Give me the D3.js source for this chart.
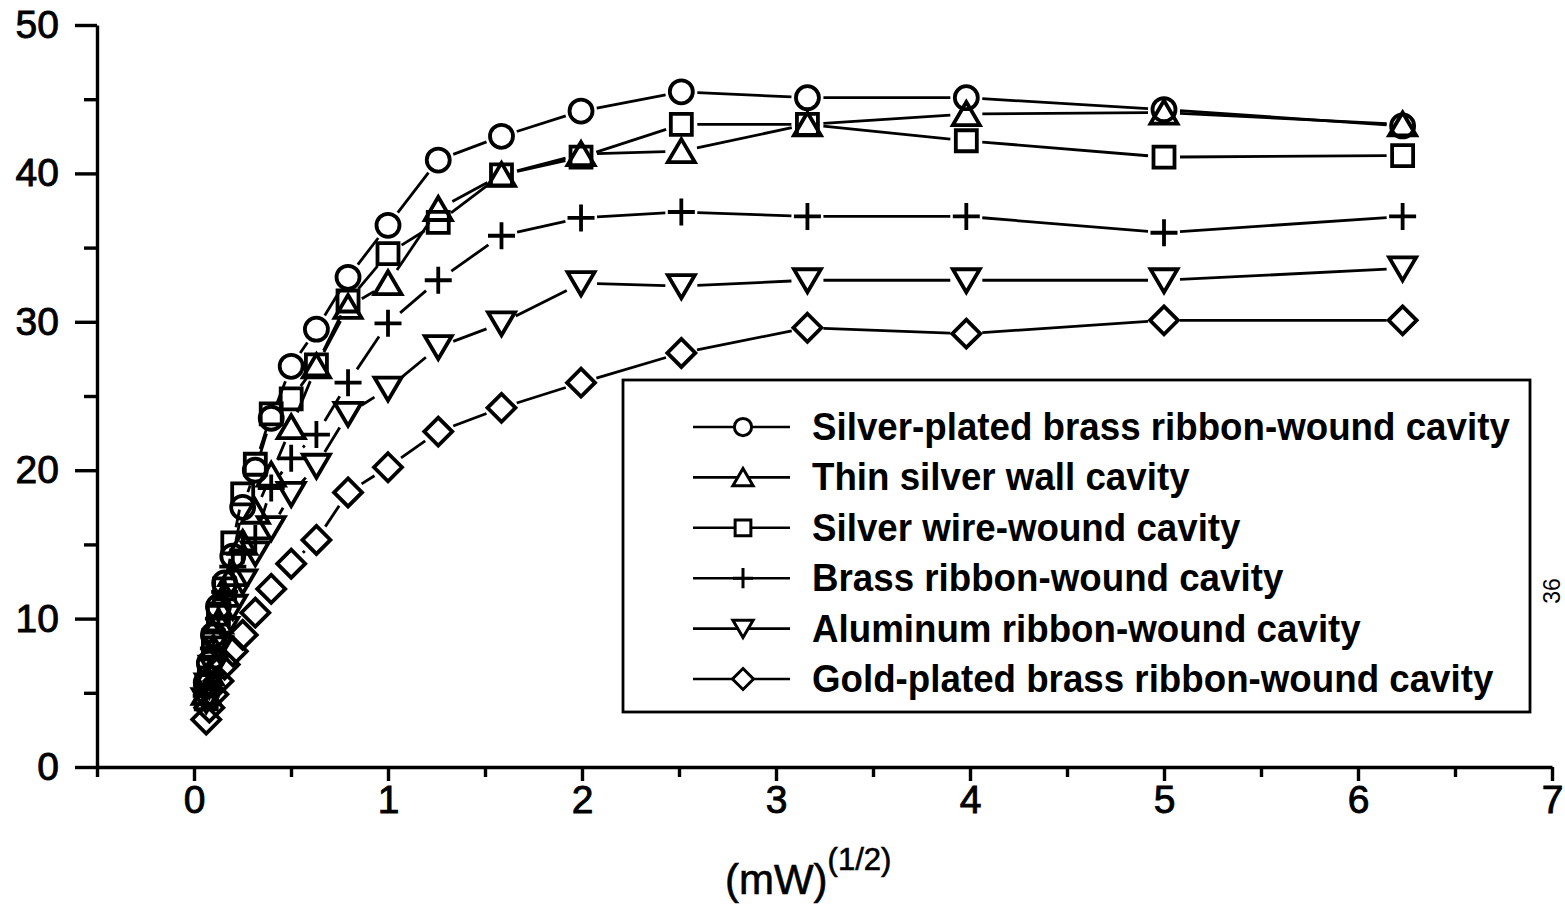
<!DOCTYPE html>
<html><head><meta charset="utf-8">
<script src="https://cdn.jsdelivr.net/npm/d3@7/dist/d3.min.js"></script>
<style>
html,body{margin:0;padding:0;background:#fff;}
svg{display:block;}
text{font-family:"Liberation Sans",Arial,sans-serif;fill:#000;}
</style></head>
<body>
<svg id="c" width="1565" height="915"></svg>
<script>
// ---------------- data ----------------
const xValues = [0.063,0.079,0.1,0.126,0.158,0.2,0.251,0.316,0.398,0.501,0.631,0.794,1.0,1.259,1.585,1.995,2.512,3.162,3.981,5.0,6.23];
const seriesNames = [
  "Silver-plated brass ribbon-wound cavity",
  "Thin silver wall cavity",
  "Silver wire-wound cavity",
  "Brass ribbon-wound cavity",
  "Aluminum ribbon-wound cavity",
  "Gold-plated brass ribbon-wound cavity"
];
const silverPlatedBrass = [5.7,7.0,8.9,10.8,12.4,14.2,17.5,20.0,23.5,27.0,29.5,33.0,36.5,40.9,42.5,44.2,45.5,45.1,45.1,44.3,43.2];
const thinSilverWall    = [5.0,6.3,8.0,9.8,11.6,13.0,15.1,17.2,19.7,22.9,27.0,31.0,32.6,37.6,39.9,41.3,41.5,43.3,44.0,44.1,43.3];
const silverWire        = [4.6,6.0,8.5,10.3,12.0,15.1,18.4,20.4,23.8,24.8,27.1,31.4,34.6,36.7,39.9,41.1,43.3,43.3,42.2,41.1,41.2];
const brassRibbon       = [4.8,6.2,8.0,10.0,11.8,13.5,14.6,15.4,18.8,20.8,22.4,25.9,29.9,32.8,35.8,37.0,37.4,37.1,37.1,36.0,37.1];
const aluminumRibbon    = [4.5,5.5,6.7,8.0,9.3,10.8,12.5,14.4,16.1,18.4,20.3,23.8,25.5,28.3,29.9,32.6,32.4,32.8,32.8,32.8,33.6];
const goldPlatedBrass   = [3.2,4.0,4.9,5.8,6.9,7.8,8.9,10.4,12.0,13.7,15.3,18.5,20.2,22.6,24.2,25.9,27.9,29.6,29.2,30.1,30.1];
const seriesValues = [silverPlatedBrass,thinSilverWall,silverWire,brassRibbon,aluminumRibbon,goldPlatedBrass];
const markerTypes = ["circle","triangleUp","square","plus","triangleDown","diamond"];
const xTickValues = [0,1,2,3,4,5,6,7];
const xMinorTicks = [-0.5,0.5,1.5,2.5,3.5,4.5,5.5,6.5];
const yTickValues = [0,10,20,30,40,50];
const yMinorTicks = [5,15,25,35,45];
const xTitle = "(mW)";
const xTitleSup = "(1/2)";
const pageNumber = "36";

// ---------------- layout ----------------
const svg = d3.select("#c");
const x = d3.scaleLinear().domain([-0.5,7]).range([97,1552]);
const y = d3.scaleLinear().domain([0,50]).range([767,25]);

function markerPath(type, s){
  const p = d3.path();
  if(type==="circle"){ p.arc(0,0,11.5*s,0,2*Math.PI); }
  else if(type==="square"){ p.rect(-10.5*s,-10.5*s,21*s,21*s); }
  else if(type==="triangleUp"){ p.moveTo(0,-12*s); p.lineTo(13.5*s,11*s); p.lineTo(-13.5*s,11*s); p.closePath(); }
  else if(type==="triangleDown"){ p.moveTo(0,12*s); p.lineTo(13.5*s,-11*s); p.lineTo(-13.5*s,-11*s); p.closePath(); }
  else if(type==="diamond"){ p.moveTo(0,-14*s); p.lineTo(14*s,0); p.lineTo(0,14*s); p.lineTo(-14*s,0); p.closePath(); }
  else if(type==="plus"){ p.moveTo(-13.5*s,0); p.lineTo(13.5*s,0); p.moveTo(0,-13.5*s); p.lineTo(0,13.5*s); }
  return p.toString();
}

// ---------------- series ----------------
const gap = 16;
seriesValues.forEach((vals,si)=>{
  const pts = vals.map((v,i)=>[x(xValues[i]), y(v)]);
  const g = svg.append("g");
  for(let i=0;i<pts.length-1;i++){
    const [x1,y1]=pts[i],[x2,y2]=pts[i+1];
    const dx=x2-x1, dy=y2-y1, d=Math.hypot(dx,dy);
    if(d>2*gap+2){
      const ux=dx/d, uy=dy/d;
      g.append("line").attr("x1",x1+ux*gap).attr("y1",y1+uy*gap)
        .attr("x2",x2-ux*gap).attr("y2",y2-uy*gap)
        .attr("stroke","#000").attr("stroke-width",2.8);
    }
  }
  g.selectAll("path.m").data(pts).join("path").attr("class","m")
    .attr("transform",d=>`translate(${d[0]},${d[1]})`)
    .attr("d",markerPath(markerTypes[si],1))
    .attr("fill","none").attr("stroke","#000").attr("stroke-width",3.8)
    .attr("stroke-linejoin","miter");
});

// ---------------- axes ----------------
const axW = 3.4;
svg.append("g").attr("transform",`translate(${x(-0.5)},0)`)
  .call(d3.axisLeft(y).tickValues(yTickValues).tickSize(22).tickSizeOuter(0).tickPadding(16).tickFormat(d3.format("d")));
svg.append("g").attr("transform",`translate(${x(-0.5)},0)`)
  .call(d3.axisLeft(y).tickValues(yMinorTicks).tickSize(13).tickSizeOuter(0).tickFormat(""))
  .select(".domain").remove();
svg.append("g").attr("transform",`translate(0,${y(0)})`)
  .call(d3.axisBottom(x).tickValues(xTickValues).tickSize(14).tickSizeOuter(0).tickPadding(4).tickFormat(d3.format("d")));
svg.append("g").attr("transform",`translate(0,${y(0)})`)
  .call(d3.axisBottom(x).tickValues(xMinorTicks).tickSize(10).tickSizeOuter(0).tickFormat(""))
  .select(".domain").remove();
svg.selectAll(".domain, .tick line").attr("stroke","#000").attr("stroke-width",axW);
svg.selectAll(".tick text").attr("font-size",39).attr("font-family","'Liberation Sans',Arial,sans-serif")
  .attr("fill","#000").attr("stroke","#000").attr("stroke-width",0.9);

// x title
const xt = svg.append("text").attr("x",725).attr("y",894).attr("font-size",42).attr("text-anchor","start")
  .attr("stroke","#000").attr("stroke-width",0.6);
xt.append("tspan").text(xTitle);
xt.append("tspan").attr("dy",-24).attr("font-size",31).text(xTitleSup);

// page number
svg.append("text").attr("transform","translate(1560,591) rotate(-90)")
  .attr("text-anchor","middle").attr("font-size",23).text(pageNumber);

// ---------------- legend ----------------
const lg = svg.append("g");
lg.append("rect").attr("x",623).attr("y",380).attr("width",907).attr("height",332)
  .attr("fill","none").attr("stroke","#000").attr("stroke-width",2.8);
const rowY = d3.scaleLinear().domain([0,5]).range([427,679]);
const texts = [];
seriesNames.forEach((name,i)=>{
  const cy = rowY(i);
  lg.append("line").attr("x1",693).attr("x2",790).attr("y1",cy).attr("y2",cy)
    .attr("stroke","#000").attr("stroke-width",2.6);
  lg.append("path").attr("transform",`translate(743,${cy})`)
    .attr("d",markerPath(markerTypes[i],0.75))
    .attr("fill","#fff").attr("stroke","#000").attr("stroke-width",3);
  const t = lg.append("text").attr("x",0).attr("y",0)
    .attr("font-size",38).attr("font-weight","bold").text(name);
  texts.push([t,cy]);
});
const w0 = texts[0][0].node().getComputedTextLength();
const sx = 698 / w0;
texts.forEach(([t,cy])=>{
  t.attr("transform",`translate(812,${cy+13}) scale(${sx},1)`);
});
</script>
</body></html>
